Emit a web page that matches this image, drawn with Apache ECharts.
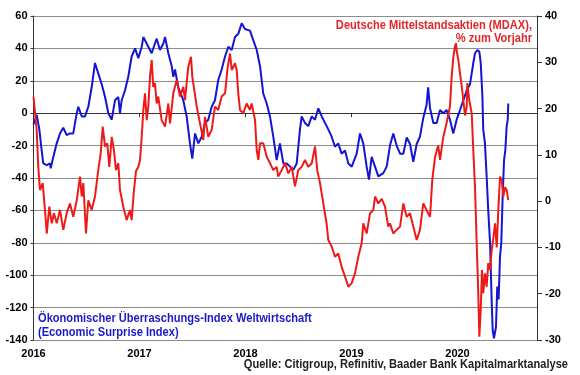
<!DOCTYPE html>
<html>
<head>
<meta charset="utf-8">
<script src="https://cdn.jsdelivr.net/npm/echarts@6/dist/echarts.min.js"></script>
<style>
  html, body { margin: 0; padding: 0; background: #fff; }
  #chart { width: 580px; height: 375px; }
</style>
</head>
<body>
<div id="chart"></div>
<script>
// Jahresmarken der x-Achse
const yearTicks = [2016, 2017, 2018, 2019, 2020]

// Ökonomischer Überraschungs-Index (linke Achse), [Jahr, Wert]
const esiPoints = [
  [2016.00, -7], [2016.03, -1], [2016.055, -10], [2016.077, -23], [2016.092, -31], [2016.125, -32],
  [2016.156, -31], [2016.162, -34], [2016.187, -27], [2016.219, -18.6], [2016.25, -12.5], [2016.281, -9],
  [2016.313, -13.5], [2016.344, -12.5], [2016.375, -12.5], [2016.408, 0], [2016.423, 4], [2016.455, -2],
  [2016.486, -2], [2016.517, 4], [2016.549, 16], [2016.58, 31], [2016.611, 24.6], [2016.643, 18],
  [2016.675, 10], [2016.706, 0], [2016.738, -4], [2016.769, 8], [2016.80, 10], [2016.816, 0],
  [2016.832, 8], [2016.863, 14], [2016.894, 22.5], [2016.926, 35], [2016.958, 40], [2016.989, 34],
  [2017.021, 41], [2017.036, 47], [2017.083, 41], [2017.115, 37], [2017.146, 43], [2017.162, 46],
  [2017.193, 39], [2017.225, 43], [2017.241, 47], [2017.272, 37], [2017.304, 29], [2017.319, 22.5],
  [2017.335, 27], [2017.366, 16], [2017.413, 8], [2017.445, -2], [2017.476, -18.6], [2017.498, -28],
  [2017.524, -12.5], [2017.555, -18.6], [2017.587, -14.5], [2017.618, -6], [2017.649, -4], [2017.681, 4],
  [2017.712, 8], [2017.743, 20.5], [2017.775, 27], [2017.807, 35], [2017.838, 41], [2017.87, 39],
  [2017.901, 47], [2017.932, 49], [2017.964, 55.5], [2017.995, 52], [2018.011, 51], [2018.042, 51],
  [2018.074, 45], [2018.106, 39], [2018.137, 29], [2018.168, 12], [2018.20, 6], [2018.231, -2],
  [2018.262, -14.5], [2018.294, -29], [2018.325, -18.6], [2018.357, -31], [2018.389, -31], [2018.42, -33],
  [2018.451, -35], [2018.483, -31], [2018.514, -10], [2018.53, -2], [2018.561, -6], [2018.592, -8],
  [2018.625, -2], [2018.656, -4], [2018.687, 3], [2018.719, -2], [2018.75, -6], [2018.781, -10],
  [2018.813, -14.5], [2018.844, -20.7], [2018.875, -18.6], [2018.907, -25], [2018.939, -23], [2018.97, -31],
  [2019.002, -33], [2019.049, -25], [2019.08, -12.5], [2019.111, -18.6], [2019.143, -33], [2019.165, -41],
  [2019.19, -27], [2019.222, -33], [2019.253, -39], [2019.30, -37], [2019.332, -33], [2019.363, -20],
  [2019.394, -12.5], [2019.426, -20], [2019.458, -25], [2019.489, -25], [2019.521, -15], [2019.552, -19],
  [2019.583, -30], [2019.615, -19], [2019.646, -14.5], [2019.677, -3], [2019.708, 5], [2019.723, 16],
  [2019.741, 3], [2019.772, -6], [2019.804, -6], [2019.835, 2], [2019.866, 0], [2019.898, 2],
  [2019.929, -4], [2019.96, -12.5], [2019.992, -4], [2020.024, 2], [2020.055, 8], [2020.087, 14],
  [2020.118, 18], [2020.134, 24.6], [2020.149, 31], [2020.165, 37], [2020.187, 39], [2020.206, 38],
  [2020.219, 31], [2020.234, 12], [2020.243, -10], [2020.259, -18.6], [2020.275, -39], [2020.29, -60],
  [2020.307, -80], [2020.316, -101], [2020.323, -117], [2020.332, -134], [2020.344, -139], [2020.363, -132],
  [2020.375, -107], [2020.388, -115], [2020.401, -88.6], [2020.413, -80], [2020.426, -51.5], [2020.439, -29],
  [2020.451, -23], [2020.464, -8], [2020.474, -4], [2020.479, 6]
]

// MDAX, % zum Vorjahr (rechte Achse), [Jahr, Wert]
const mdaxPoints = [
  [2016.00, 22.6], [2016.03, 15.4], [2016.045, 7.4], [2016.061, 2.4], [2016.087, 3.9], [2016.108, -1.9],
  [2016.125, -7], [2016.149, -1.2], [2016.172, -4.8], [2016.193, -2.6], [2016.219, -4.8], [2016.25, -1.9],
  [2016.281, -6.2], [2016.313, -2.6], [2016.344, -0.5], [2016.375, -3.4], [2016.408, 0.2], [2016.439, 5.3],
  [2016.455, 1], [2016.47, 3.9], [2016.495, -7], [2016.517, 0.2], [2016.549, -1.9], [2016.58, 1],
  [2016.611, 6.7], [2016.634, 10.3], [2016.653, 16.1], [2016.675, 11.8], [2016.696, 12.5], [2016.715, 7.4],
  [2016.738, 13.9], [2016.759, 11], [2016.778, 6.7], [2016.80, 8.2], [2016.816, 2.4], [2016.847, -1.2],
  [2016.879, -4.1], [2016.91, -1.9], [2016.926, -4.1], [2016.948, 2.4], [2016.967, 6.5], [2016.989, 7.4],
  [2017.005, 8.9], [2017.021, 13.9], [2017.036, 19.7], [2017.052, 23.3], [2017.068, 17.5], [2017.083, 20.4],
  [2017.099, 26.9], [2017.115, 30.5], [2017.13, 24.7], [2017.146, 25.5], [2017.162, 21.1], [2017.177, 22.6],
  [2017.209, 17.5], [2017.241, 16.1], [2017.272, 21.1], [2017.288, 16.8], [2017.319, 23.3], [2017.351, 26.2],
  [2017.382, 22.6], [2017.413, 24.7], [2017.429, 21.8], [2017.46, 29], [2017.486, 31.2], [2017.498, 26.9],
  [2017.517, 24], [2017.54, 20.4], [2017.571, 16.8], [2017.602, 13.2], [2017.618, 18.2], [2017.649, 13.9],
  [2017.681, 15.4], [2017.712, 20.4], [2017.743, 19.7], [2017.775, 22.6], [2017.807, 23.3], [2017.832, 29],
  [2017.854, 31.9], [2017.87, 28.3], [2017.901, 29.8], [2017.917, 28.3], [2017.932, 23.3], [2017.948, 19.7],
  [2017.979, 19], [2018.011, 21.1], [2018.042, 19.7], [2018.058, 21.1], [2018.09, 17.5], [2018.106, 11],
  [2018.121, 8.9], [2018.137, 12.5], [2018.168, 12.5], [2018.20, 9.6], [2018.231, 8.2], [2018.262, 6.7],
  [2018.294, 7.4], [2018.309, 5.3], [2018.341, 6.7], [2018.373, 8.2], [2018.404, 6], [2018.436, 7.4],
  [2018.467, 3.2], [2018.498, 6.7], [2018.53, 7.4], [2018.561, 8.9], [2018.592, 7.4], [2018.625, 8.2],
  [2018.656, 11.8], [2018.677, 6.7], [2018.703, 3.9], [2018.734, -0.5], [2018.766, -5], [2018.781, -8.4],
  [2018.813, -9.8], [2018.844, -12], [2018.875, -11.3], [2018.907, -14.2], [2018.939, -16.3], [2018.97, -18.5],
  [2019.002, -17.7], [2019.033, -15.6], [2019.064, -12], [2019.096, -9.1], [2019.111, -4.8], [2019.143, -7],
  [2019.175, -2.6], [2019.206, -1.9], [2019.222, 1], [2019.253, -0.5], [2019.285, 0.5], [2019.316, -1.2],
  [2019.347, -5.5], [2019.363, -4.8], [2019.394, -7], [2019.426, -6.2], [2019.458, -5.5], [2019.489, -0.5],
  [2019.521, -3.4], [2019.552, -2.6], [2019.583, -5.5], [2019.615, -8.4], [2019.646, -6.2], [2019.677, -0.5],
  [2019.708, -1.9], [2019.741, -3.4], [2019.762, 4.6], [2019.788, 9.5], [2019.818, 12], [2019.835, 8.9],
  [2019.866, 13.9], [2019.898, 17], [2019.929, 20.5], [2019.945, 26.9], [2019.96, 31], [2019.976, 33.4],
  [2019.986, 34.1], [2019.992, 32.5], [2020.008, 30.5], [2020.024, 27.5], [2020.039, 25], [2020.055, 21.8],
  [2020.071, 18.5], [2020.087, 20.4], [2020.093, 25.5], [2020.111, 21.8], [2020.134, 19], [2020.149, 11],
  [2020.165, 3], [2020.181, -9.1], [2020.196, -19.9], [2020.206, -29.3], [2020.219, -23.5], [2020.231, -14.9],
  [2020.243, -19.9], [2020.259, -15.6], [2020.275, -18.5], [2020.29, -13.4], [2020.307, -14.9], [2020.323, -10.5],
  [2020.338, -8], [2020.354, -4.8], [2020.37, -10], [2020.385, -2], [2020.401, 5.3], [2020.417, 4.6],
  [2020.432, 1], [2020.448, 3], [2020.464, 2.4], [2020.479, 0.2]
]

const chart = echarts.init(document.getElementById('chart'))
const labelFont = { color: '#000', fontSize: 11, fontWeight: 'bold', fontFamily: 'Liberation Sans, Arial, sans-serif' }
const noteFont = 'bold 12px "Liberation Sans", Arial, sans-serif'

chart.setOption({
  animation: false,
  grid: { left: 33.5, right: 43, top: 16, bottom: 35 },
  xAxis: {
    type: 'value',
    min: 2016,
    max: 2020.75,
    interval: 1,
    axisLine: { lineStyle: { color: '#333', width: 1 } },
    axisTick: { show: true, length: 4, customValues: yearTicks, lineStyle: { color: '#333' } },
    axisLabel: Object.assign({ margin: 8, customValues: yearTicks, formatter: v => String(v) }, labelFont),
    splitLine: { show: false }
  },
  yAxis: [
    {
      type: 'value',
      min: -140,
      max: 60,
      interval: 20,
      axisLine: { show: true, lineStyle: { color: '#333' } },
      axisTick: { show: true, length: 3, lineStyle: { color: '#333' } },
      axisLabel: Object.assign({ margin: 6 }, labelFont),
      splitLine: { show: true, lineStyle: { color: '#8c8c8c', width: 1 } }
    },
    {
      type: 'value',
      min: -30,
      max: 40,
      interval: 10,
      position: 'right',
      axisLine: { show: true, lineStyle: { color: '#333' } },
      axisTick: { show: true, length: 5, lineStyle: { color: '#333' } },
      axisLabel: Object.assign({ margin: 8 }, labelFont),
      splitLine: { show: false }
    }
  ],
  series: [
    {
      name: 'Ökonomischer Überraschungs-Index',
      type: 'line',
      yAxisIndex: 0,
      showSymbol: false,
      data: esiPoints,
      lineStyle: { color: '#1414d2', width: 2 }
    },
    {
      name: 'MDAX',
      type: 'line',
      yAxisIndex: 1,
      showSymbol: false,
      data: mdaxPoints,
      lineStyle: { color: '#ee1a1a', width: 2 }
    }
  ],
  graphic: [
    {
      type: 'text', x: 532, y: 19, scaleX: 0.925,
      style: {
        text: 'Deutsche Mittelstandsaktien (MDAX),\n% zum Vorjahr',
        align: 'right', fill: '#e3262b', lineHeight: 13, font: noteFont
      }
    },
    {
      type: 'text', x: 38, y: 312, scaleX: 0.925,
      style: {
        text: 'Ökonomischer Überraschungs-Index Weltwirtschaft\n(Economic Surprise Index)',
        align: 'left', fill: '#1a1ac8', lineHeight: 14, font: noteFont
      }
    },
    {
      type: 'text', x: 568, y: 359, scaleX: 0.925,
      style: {
        text: 'Quelle: Citigroup, Refinitiv, Baader Bank Kapitalmarktanalyse',
        align: 'right', fill: '#222', font: noteFont
      }
    }
  ]
})
</script>
</body>
</html>
